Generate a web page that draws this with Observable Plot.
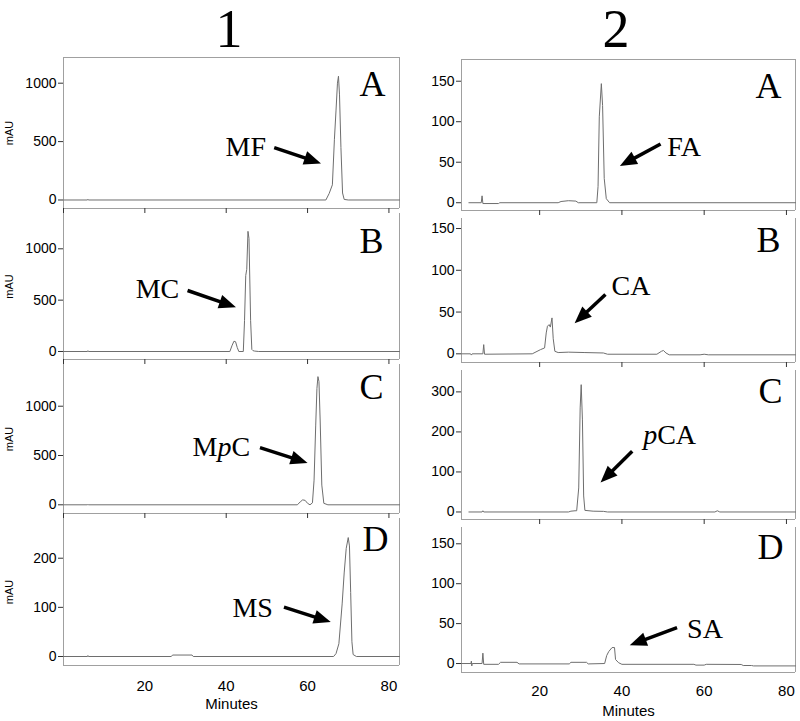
<!DOCTYPE html>
<html><head><meta charset="utf-8">
<script src="https://cdn.jsdelivr.net/npm/d3@7"></script>
<script src="https://cdn.jsdelivr.net/npm/@observablehq/plot@0.6"></script>
<style>
body{margin:0;background:#fff;}
#fig{position:relative;width:800px;height:721px;overflow:hidden;background:#fff;}
.col-title{position:absolute;top:0;width:100px;text-align:center;font-family:"Liberation Serif","Times New Roman",serif;font-size:54px;line-height:58px;color:#000;}
</style></head><body><div id="fig"></div>
<script>
// ---------- DATA ----------
const columnTitles = ["1", "2"];
const panelLetters = ["A", "B", "C", "D"];
const compounds1 = ["MF", "MC", "MpC", "MS"];
const compounds2 = ["FA", "CA", "pCA", "SA"];
const xTicks = [0, 20, 40, 60, 80];
const xTickLabels = [20, 40, 60, 80];
const xLabel = "Minutes";
const yLabel = "mAU";
const yTicks1 = [[0, 500, 1000], [0, 500, 1000], [0, 500, 1000], [0, 100, 200]];
const yTicks2 = [[0, 50, 100, 150], [0, 50, 100, 150], [0, 100, 200, 300], [0, 50, 100, 150]];

// Column 1 traces (minutes, mAU)
const t1A = [0, 5.9, 6.0, 6.1, 64.5, 65.3, 66.1, 66.6, 67.0, 67.35, 67.6, 67.85, 68.2, 68.6, 69.0, 70, 82.6];
const v1A = [0, 0, 6, 0, 0, 55, 130, 520, 770, 1000, 1060, 900, 450, 60, 5, 0, 0];
const t1B = [0, 5.9, 6.0, 6.1, 40.9, 41.4, 41.9, 42.3, 42.7, 43.1, 44.2, 44.5, 44.8, 45.05, 45.35, 45.6, 46.0, 46.3, 46.6, 47.0, 48, 82.6];
const v1B = [0, 0, 8, 0, 0, 55, 100, 95, 40, 0, 0, 300, 740, 800, 1170, 1100, 300, 20, 8, 4, 0, 0];
const t1C = [0, 5.9, 6.0, 6.1, 57.5, 58.2, 58.8, 59.4, 60.0, 60.6, 61.2, 61.6, 62.0, 62.3, 62.55, 62.8, 63.1, 63.5, 64.0, 65, 82.6];
const v1C = [0, 0, 5, 0, 0, 30, 50, 45, 15, 0, 20, 250, 800, 1180, 1300, 1250, 850, 200, 15, 0, 0];
const t1D = [0, 5.9, 6.0, 6.1, 26.5, 26.8, 31.6, 31.9, 66.4, 67.0, 67.7, 68.5, 69.0, 69.5, 70.0, 70.3, 70.6, 70.9, 71.2, 72, 82.6];
const v1D = [0, 0, 2, 0, 0, 3, 3, 0, 0, 6, 26, 107, 170, 220, 242, 225, 130, 30, 4, 0, 0];

// Column 2 traces (minutes, mAU)
const t2A = [2.8, 5.8, 6.0, 6.2, 10.0, 10.3, 24.5, 25.2, 27.0, 28.8, 29.4, 33.9, 34.2, 34.5, 35.0, 35.3, 35.7, 36.2, 37.0, 82.2];
const v2A = [0, 0, 8.5, -1, -1, 0, 0, 1.5, 2.5, 2, 0, 0, 20, 106, 147, 120, 30, 5, 0, 0];
const t2B = [1, 3.2, 3.4, 3.6, 6.2, 6.4, 6.6, 18.2, 20.2, 21.2, 21.6, 21.9, 22.3, 22.6, 23.0, 23.3, 23.7, 24.5, 27, 31, 35.5, 36.5, 48.5, 49.6, 50.1, 50.7, 51.5, 59, 60, 61, 82.2];
const v2B = [0, 0, -1.5, 0, 0, 11, -0.5, 0, 5, 7, 25, 33, 35, 32, 43, 18, 3, 1.5, 2, 1.5, 1, -0.5, -0.5, 3, 4, 1, -1.2, -1.2, -0.5, -1.2, -1.2];
const t2C = [2.8, 6.0, 6.2, 6.4, 27.0, 27.6, 28.6, 29.0, 29.5, 29.85, 30.1, 30.4, 30.7, 31.0, 33, 35.5, 36.5, 62.6, 63.2, 63.8, 82.2];
const v2C = [0, 0, 3, 0, 0, 2, 3, 3, 60, 260, 318, 230, 40, 4, 2, 1.5, 0, 0, 3, 0, 0];
const t2D = [1, 3.3, 3.4, 3.5, 3.6, 6.0, 6.2, 6.4, 10, 10.5, 14.5, 15, 27.2, 27.6, 31.4, 31.8, 35.8, 36.3, 36.8, 37.6, 38.2, 38.45, 39.2, 40, 57.5, 58, 60, 60.5, 69, 69.5, 71.5, 72, 82.2];
const v2D = [0, 0, 3, -3, 0, 0, 13, -1, -1, 1.5, 1.5, -0.5, -0.5, 1.5, 1.5, -0.5, 0, 10, 15, 20, 20, 5, 1, -1, -1, -2, -2, -1, -1.2, -2.5, -2.5, -3, -3];

// Annotation positions (data units: minutes, mAU)
const labelX1 = [44.8, 23.1, 38.8, 46.5], labelY1 = [452, 604, 588, 99];
const arrowFromX1 = [51.8, 30.5, 48.3, 54.2], arrowFromY1 = [449, 594, 580, 100.6];
const arrowToX1 = [63.3, 42.4, 60.0, 65.7], arrowToY1 = [313, 432, 425, 70];
const labelX2 = [55.1, 42.2, 51.6, 60.2], labelY2 = [69, 80.7, 193, 42.9];
const arrowFromX2 = [49.4, 36.0, 42.5, 53.4], arrowFromY2 = [72.5, 71, 151.6, 45];
const arrowToX2 = [39.5, 28.5, 34.8, 41.9], arrowToY2 = [45.3, 36.6, 73.4, 22.9];

// ---------- LAYOUT / STYLE ----------
const serif = "Liberation Serif, Times New Roman, serif";
const sans = "Liberation Sans, Arial, Helvetica, sans-serif";
const traceColor = "#6e6e6e", frameColor = "#a0a0a0", tickColor = "#333";
const HEAD_L = 17, HEAD_W = 7;
const arrowHead = {draw(ctx) { ctx.moveTo(0, 0); ctx.lineTo(HEAD_W, HEAD_L); ctx.lineTo(-HEAD_W, HEAD_L); ctx.closePath(); }};

const columns = [
  {left: 0, width: 400, ml: 63, mr: 1, xDomain: [0, 82.6], titleX: 229, showYLabel: true,
   times: [t1A, t1B, t1C, t1D], values: [v1A, v1B, v1C, v1D], yTicks: yTicks1, names: compounds1,
   lx: labelX1, ly: labelY1, ax1: arrowFromX1, ay1: arrowFromY1, ax2: arrowToX1, ay2: arrowToY1,
   rows: [
     {top: 57, bottom: 208, y: [-72.8, 1220], ldx: -14, ldy: 26.5},
     {top: 213, bottom: 359, y: [-77.9, 1343.7], ldx: -16, ldy: 28},
     {top: 364, bottom: 513, y: [-88.2, 1423], ldx: -16, ldy: 22.5},
     {top: 518, bottom: 665, y: [-18.3, 280.8], ldx: -11, ldy: 21}
   ], tickPad: 15, xLabelDy: 39},
  {left: 400, width: 400, ml: 61, mr: 5, xDomain: [1, 82.2], titleX: 616, showYLabel: false,
   times: [t2A, t2B, t2C, t2D], values: [v2A, v2B, v2C, v2D], yTicks: yTicks2, names: compounds2,
   lx: labelX2, ly: labelY2, ax1: arrowFromX2, ay1: arrowFromY2, ax2: arrowToX2, ay2: arrowToY2,
   rows: [
     {top: 59.3, bottom: 210.5, y: [-9.6, 176.8], ldx: -14, ldy: 27},
     {top: 218, bottom: 362, y: [-10.4, 162], ldx: -15, ldy: 22},
     {top: 370, bottom: 518.5, y: [-18.8, 353.4], ldx: -13, ldy: 20.5},
     {top: 527, bottom: 672.3, y: [-11.25, 170.4], ldx: -12, ldy: 19.5}
   ], tickPad: 13, xLabelDy: 39}
];

const fig = document.getElementById("fig");

columns.forEach((col, c) => {
  const title = document.createElement("div");
  title.className = "col-title";
  title.textContent = columnTitles[c];
  title.style.left = (col.titleX - 50) + "px";
  fig.appendChild(title);

  col.rows.forEach((row, r) => {
    const isLast = r === 3;
    const mt = 2, mb = isLast ? 52 : 6;
    const height = Math.round(mt + (row.bottom - row.top) + mb);
    const innerBottom = height - mb;
    const xs = d3.scaleLinear(col.xDomain, [col.ml, col.width - col.mr]);
    const ys = d3.scaleLinear(row.y, [innerBottom, mt]);
    const data = col.times[r].map((t, i) => ({t, v: col.values[r][i]}));

    // arrow geometry
    const x1 = col.ax1[r], y1 = col.ay1[r], x2 = col.ax2[r], y2 = col.ay2[r];
    const px = xs(x2) - xs(x1), py = ys(y2) - ys(y1);
    const len = Math.hypot(px, py);
    const f = 1 - (HEAD_L - 3) / len;
    const shaft = [{x1, y1, x2: x1 + (x2 - x1) * f, y2: y1 + (y2 - y1) * f}];
    const head = [{x: x2, y: y2, a: Math.atan2(py, px) * 180 / Math.PI + 90}];
    const label = [{x: col.lx[r], y: col.ly[r], text: col.names[r]}];

    const marks = [
      Plot.ruleX(col.xDomain, {stroke: frameColor, strokeWidth: 1}),
      Plot.ruleY([row.y[0]], {stroke: frameColor, strokeWidth: 1}),
    ];
    if (r === 0) marks.push(Plot.ruleY([row.y[1]], {stroke: frameColor, strokeWidth: 1}));
    marks.push(
      Plot.line(data, {x: "t", y: "v", stroke: traceColor, strokeWidth: 1}),
      Plot.axisY({anchor: "left", ticks: col.yTicks[r], tickSize: 5, tickPadding: 2, stroke: tickColor, fontSize: 14, tickFormat: d => String(d)})
    );
    if (isLast) {
      marks.push(Plot.axisX({anchor: "bottom", ticks: xTickLabels, tickSize: 0, tickPadding: col.tickPad, fontSize: 15, tickFormat: d => String(d)}));
      marks.push(Plot.text([xLabel], {text: d => d, frameAnchor: "bottom", dy: col.xLabelDy, lineAnchor: "middle", fontSize: 15, fontFamily: sans}));
    } else {
      const tk = xTicks.filter(v => v >= col.xDomain[0] && v <= col.xDomain[1]);
      marks.push(Plot.axisX({anchor: "bottom", ticks: tk, tickSize: 5, tickFormat: () => "", stroke: tickColor}));
    }
    if (col.showYLabel) {
      marks.push(Plot.text([yLabel], {text: d => d, frameAnchor: "left", dx: -54, rotate: -90, textAnchor: "middle", lineAnchor: "middle", fontSize: 11, fontFamily: sans}));
    }
    marks.push(
      Plot.text([panelLetters[r]], {text: d => d, frameAnchor: "top-right", dx: row.ldx, dy: row.ldy, textAnchor: "end", lineAnchor: "middle", fontSize: 36, fontFamily: serif, fill: "#000"}),
      Plot.text(label, {x: "x", y: "y", text: "text", textAnchor: "middle", lineAnchor: "middle", fontSize: 28, fontFamily: serif, fill: "#000"}),
      Plot.link(shaft, {x1: "x1", y1: "y1", x2: "x2", y2: "y2", stroke: "#000", strokeWidth: 3.5}),
      Plot.dot(head, {x: "x", y: "y", rotate: "a", symbol: arrowHead, fill: "#000", stroke: "none", r: 6})
    );

    const svg = Plot.plot({
      width: col.width, height,
      marginTop: mt, marginBottom: mb, marginLeft: col.ml, marginRight: col.mr,
      x: {domain: col.xDomain, type: "linear"},
      y: {domain: row.y, type: "linear"},
      style: {fontFamily: sans, fontSize: "14px", background: "transparent", overflow: "visible", color: "#000"},
      marks
    });
    svg.querySelectorAll("text").forEach(t => {
      if (t.textContent === "MpC") t.innerHTML = 'M<tspan font-style="italic">p</tspan>C';
      if (t.textContent === "pCA") t.innerHTML = '<tspan font-style="italic">p</tspan>CA';
    });
    svg.style.position = "absolute";
    svg.style.left = col.left + "px";
    svg.style.top = (row.top - mt) + "px";
    fig.appendChild(svg);
  });
});
</script></body></html>
